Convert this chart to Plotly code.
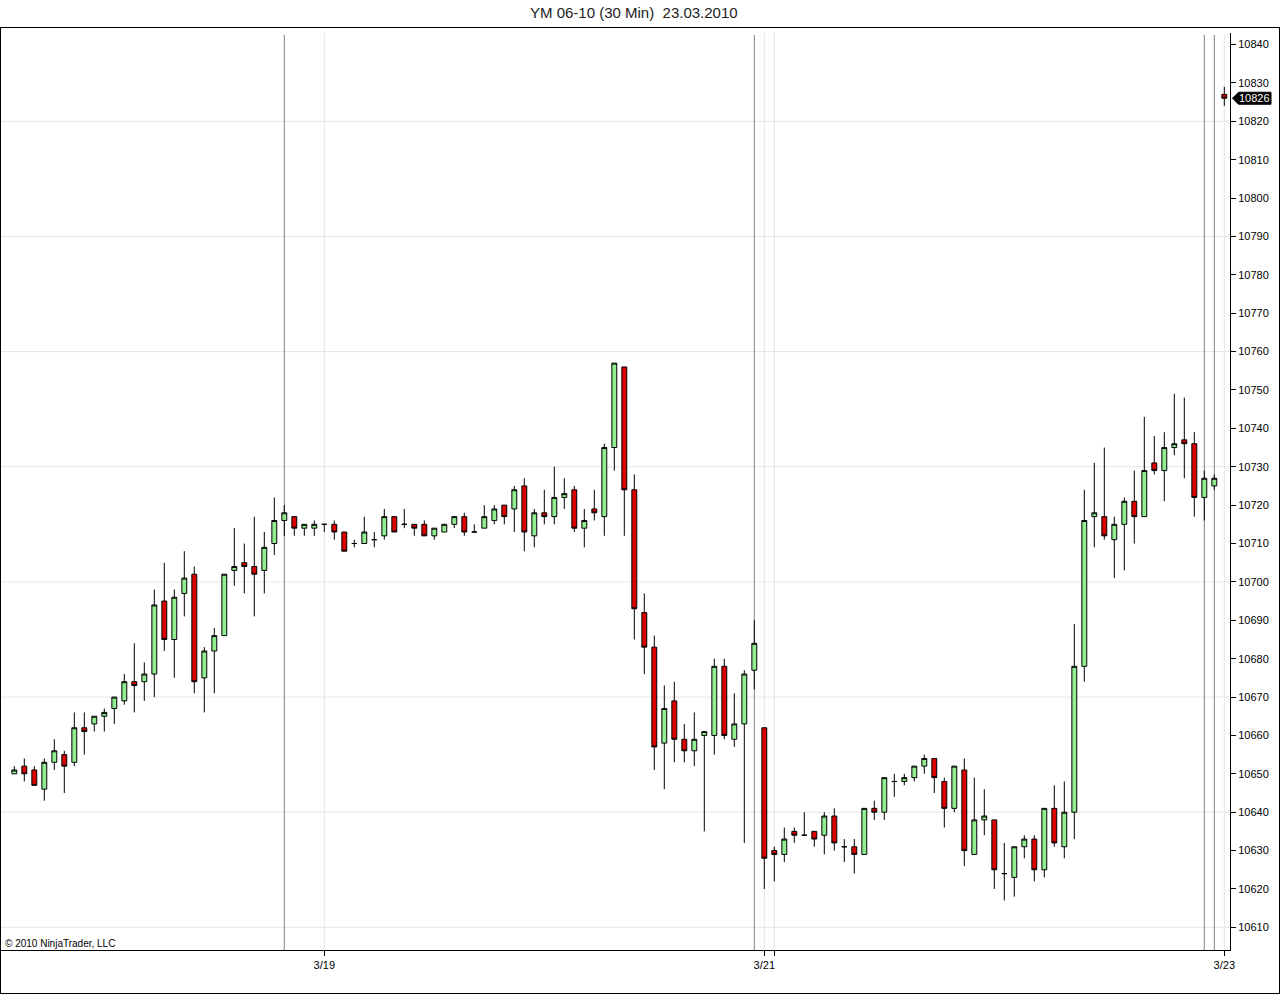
import plotly.graph_objects as go

# ---- data (30 min bars, YM 06-10) ----
bar_index = list(range(122))
opens = [10650,10652,10651,10646,10653,10655,10653,10662,10663,10665,10667,10669,10674,10674,10676,10695,10685,10697,10702,10675,
         10682,10686,10703,10705,10704,10703,10710,10716,10717,10714,10714,10715,10715,10713,10710,10710,10711,10712,10717,10715,
         10715,10715,10712,10713,10715,10717,10713,10714,10716,10720,10719,10725,10712,10718,10717,10722,10724,10714,10719,10717,
         10735,10756,10724,10692,10683,10658,10669,10659,10656,10660,10660,10678,10659,10663,10677,10662,10630,10629,10635,10634,
         10635,10634,10639,10631,10631,10629,10641,10640,10648,10648,10649,10652,10654,10648,10641,10651,10629,10638,10638,10624,
         10623,10631,10633,10625,10641,10631,10640,10678,10717,10717,10711,10715,10721,10717,10731,10729,10735,10737,10736,10722,
         10725,10827]
highs = [10652,10654,10652,10654,10659,10656,10666,10666,10665,10667,10670,10676,10684,10679,10698,10705,10698,10708,10704,10683,
         10688,10702,10714,10710,10717,10713,10722,10720,10717,10715,10716,10715,10716,10713,10711,10717,10713,10719,10717,10719,
         10715,10716,10714,10715,10717,10718,10715,10720,10720,10720,10725,10727,10719,10724,10730,10727,10725,10719,10724,10736,
         10757,10756,10728,10697,10686,10673,10674,10663,10666,10661,10680,10680,10671,10677,10690,10662,10631,10636,10636,10640,
         10635,10640,10641,10633,10633,10641,10643,10649,10650,10650,10652,10655,10654,10649,10652,10654,10649,10646,10638,10632,
         10631,10634,10634,10641,10647,10648,10689,10724,10731,10735,10717,10722,10729,10743,10738,10739,10749,10748,10739,10729,
         10728,10829]
lows = [10650,10648,10647,10643,10651,10645,10652,10655,10661,10661,10663,10668,10666,10669,10670,10682,10675,10691,10671,10666,
        10671,10686,10699,10697,10691,10697,10707,10712,10712,10712,10712,10713,10711,10708,10709,10710,10709,10711,10713,10714,
        10712,10712,10711,10713,10714,10712,10713,10714,10715,10715,10713,10708,10709,10715,10715,10719,10713,10709,10716,10712,
        10729,10712,10685,10676,10651,10646,10653,10653,10652,10635,10655,10659,10657,10632,10672,10620,10622,10627,10632,10634,
        10631,10629,10630,10627,10624,10629,10638,10638,10644,10647,10648,10650,10645,10636,10640,10626,10629,10634,10620,10617,
        10618,10628,10622,10623,10631,10628,10633,10674,10709,10711,10701,10703,10710,10717,10728,10721,10733,10727,10717,10716,
        10724,10824]
closes = [10651,10650,10647,10653,10656,10652,10662,10661,10665,10666,10670,10674,10673,10676,10694,10685,10696,10701,10674,10682,
          10686,10702,10704,10704,10702,10709,10716,10718,10714,10715,10715,10715,10713,10708,10710,10713,10711,10717,10713,10715,
          10714,10712,10714,10715,10717,10713,10713,10717,10719,10717,10724,10713,10718,10717,10722,10723,10714,10716,10718,10735,
          10757,10724,10693,10683,10657,10667,10659,10656,10659,10661,10678,10660,10663,10676,10684,10628,10629,10633,10634,10634,
          10633,10639,10632,10631,10629,10641,10640,10649,10648,10649,10652,10654,10649,10641,10652,10630,10638,10639,10625,10624,
          10631,10633,10625,10641,10632,10640,10678,10716,10718,10712,10715,10721,10717,10729,10729,10735,10736,10736,10722,10727,
          10727,10826]

tick_positions = [31, 75, 76, 121]
tick_labels = ["3/19", "3/21", "", "3/23"]
session_lines = [27, 74, 119, 120]
price_ticks = list(range(10610, 10841, 10))
grid_levels = list(range(10610, 10821, 30))
last_price = 10826
title_text = "YM 06-10 (30 Min)\u00a0 23.03.2010"
copyright_text = "\u00a9 2010 NinjaTrader, LLC"

FONT = "Liberation Sans, Arial, sans-serif"

fig = go.Figure()
fig.add_trace(go.Candlestick(
    x=bar_index, open=opens, high=highs, low=lows, close=closes,
    increasing=dict(fillcolor="#90EE90", line=dict(color="black", width=1)),
    decreasing=dict(fillcolor="#DC0000", line=dict(color="black", width=1)),
    whiskerwidth=0, hoverinfo="skip", showlegend=False,
))

shapes = []
for v in grid_levels:
    shapes.append(dict(type="line", xref="paper", yref="y", x0=0, x1=1, y0=v, y1=v,
                       line=dict(color="#E6E6E6", width=1), layer="below"))
for t in tick_positions:
    shapes.append(dict(type="line", xref="x", yref="paper", x0=t, x1=t, y0=0, y1=1,
                       line=dict(color="#EDE3DE", width=1), layer="below"))
for s in session_lines:
    shapes.append(dict(type="line", xref="x", yref="paper", x0=s, x1=s, y0=0, y1=0.998,
                       line=dict(color="#808080", width=1), layer="below"))

# outer frame (pixel-based paper coordinates)
PW, PH = 1229.0, 917.0
def px(xp):
    return (xp - 1) / PW
def py(yp):
    return (950 - yp) / PH
frame = dict(color="black", width=1)
shapes.append(dict(type="line", xref="paper", yref="paper", x0=px(0), x1=px(1280), y0=py(27.5), y1=py(27.5), line=frame))
shapes.append(dict(type="line", xref="paper", yref="paper", x0=px(0.5), x1=px(0.5), y0=py(27.5), y1=py(993.5), line=frame))
shapes.append(dict(type="line", xref="paper", yref="paper", x0=px(1279.5), x1=px(1279.5), y0=py(27.5), y1=py(993.5), line=frame))
shapes.append(dict(type="line", xref="paper", yref="paper", x0=px(0), x1=px(1280), y0=py(993.5), y1=py(993.5), line=frame))

# last price marker
hh = 6 / 3.838
xt, xb, xr = px(1232.5), px(1238.5), px(1271)
path = (f"M {xt},{last_price} L {xb},{last_price + hh} L {xr},{last_price + hh} "
        f"L {xr},{last_price - hh} L {xb},{last_price - hh} Z")
shapes.append(dict(type="path", xref="paper", yref="y", path=path,
                   fillcolor="black", line=dict(color="black", width=1)))

annotations = [
    dict(text=title_text, xref="paper", yref="paper", x=px(634), y=py(12),
         xanchor="center", yanchor="middle", showarrow=False,
         font=dict(family=FONT, size=15, color="#222222")),
    dict(text=copyright_text, xref="paper", yref="paper", x=px(3), y=py(943),
         xanchor="left", yanchor="middle", showarrow=False,
         font=dict(family=FONT, size=10, color="black")),
    dict(text=str(last_price), xref="paper", yref="y", x=px(1254.5), y=last_price,
         xanchor="center", yanchor="middle", showarrow=False,
         font=dict(family=FONT, size=11, color="white")),
]

fig.update_layout(
    width=1280, height=994,
    margin=dict(l=1, r=50, t=33, b=44),
    paper_bgcolor="white", plot_bgcolor="white",
    shapes=shapes, annotations=annotations,
    hovermode=False,
    xaxis=dict(range=[-1.33, 121.57], showgrid=False, zeroline=False,
               tickmode="array", tickvals=tick_positions, ticktext=tick_labels,
               ticks="outside", ticklen=5, tickcolor="black",
               showline=True, linecolor="black", linewidth=1,
               tickfont=dict(family=FONT, size=11, color="black"),
               rangeslider=dict(visible=False), fixedrange=True),
    yaxis=dict(side="right", range=[10604.1, 10843.0], showgrid=False, zeroline=False,
               tickmode="array", tickvals=price_ticks, tickformat="d",
               ticks="outside", ticklen=5, tickcolor="black",
               showline=True, linecolor="black", linewidth=1,
               tickfont=dict(family=FONT, size=11, color="black"),
               fixedrange=True),
)

fig.write_html("out.html", config={"displayModeBar": False},
               post_script="document.body.style.margin='0';document.body.style.overflow='hidden';")
